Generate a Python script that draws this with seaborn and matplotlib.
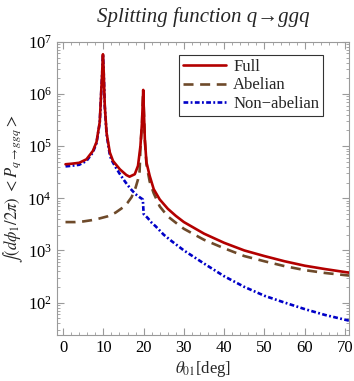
import matplotlib
matplotlib.use("Agg")
import matplotlib.pyplot as plt
import matplotlib.ticker as mticker
import numpy as np
import pandas as pd
import seaborn as sns

# angle theta_01 [deg] and splitting-function values
full_x = [0.6, 2, 4, 5.8, 7.4, 8.3, 9.1, 9.5, 9.7, 9.8, 9.9, 10.0, 10.1, 10.35, 10.8, 11.6, 12.4,
          14.1, 15.7, 16.5, 17.8, 18.6, 19.2, 19.6, 19.75, 19.9, 20.05, 20.3, 20.7, 21.5, 22.5,
          24, 26, 28, 30, 35, 40, 45, 50, 55, 60, 65, 71]
full_y = [4.5e4, 4.6e4, 4.8e4, 5.6e4, 8.1e4, 1.2e5, 2.9e5, 1.25e6, 2.5e6, 4.0e6, 5.8e6, 4.0e6,
          2.5e6, 6.0e5, 1.8e5, 7.6e4, 5.2e4, 3.6e4, 2.8e4, 2.6e4, 2.9e4, 4.2e4, 1.0e5, 2.9e5,
          6.0e5, 1.2e6, 5.0e5, 1.35e5, 4.9e4, 2.7e4, 1.5e4, 9.5e3, 6.3e3, 4.6e3, 3.5e3,
          2.1e3, 1.4e3, 1.0e3, 780, 620, 510, 440, 375]

abel_x = [0.6, 3, 5, 7, 9, 11, 13, 15, 16, 17, 18, 18.6, 19.0, 19.2, 19.6, 19.75, 19.9, 20.05,
          20.3, 20.7, 21.5, 22.5, 24, 26, 28, 30, 35, 40, 45, 50, 55, 60, 65, 71]
abel_y = [3.5e3, 3.5e3, 3.6e3, 3.8e3, 4.1e3, 4.5e3, 5.3e3, 6.8e3, 8.2e3, 1.05e4, 1.6e4, 2.3e4,
          3.3e4, 9.0e4, 2.8e5, 5.9e5, 1.2e6, 4.9e5, 1.3e5, 4.5e4, 2.1e4, 1.25e4, 7.0e3, 4.5e3,
          3.4e3, 2.6e3, 1.6e3, 1.1e3, 780, 620, 500, 420, 370, 330]

nonab_x = [0.6, 2, 4, 5.8, 7.4, 8.3, 9.1, 9.5, 9.7, 9.8, 9.9, 10.0, 10.1, 10.35, 10.8, 11.6, 12,
           13, 14, 15, 16, 17, 18, 19, 19.8, 20.0, 21, 22, 23, 25, 27, 30, 35, 40, 45, 50, 55,
           60, 65, 71]
nonab_y = [4.1e4, 4.2e4, 4.4e4, 5.2e4, 7.6e4, 1.15e5, 2.8e5, 1.2e6, 2.4e6, 3.9e6, 5.7e6, 3.9e6,
           2.4e6, 5.8e5, 1.7e5, 6.8e4, 5.5e4, 4.0e4, 3.0e4, 2.3e4, 1.8e4, 1.45e4, 1.2e4, 1.05e4,
           9.5e3, 5.0e3, 4.2e3, 3.4e3, 2.9e3, 2.0e3, 1.5e3, 1.0e3, 560, 320, 200, 135, 100, 75,
           58, 45]

x_ticks = [0, 10, 20, 30, 40, 50, 60, 70]

sns.set_style("ticks")
plt.rcParams["font.family"] = ["Liberation Serif", "DejaVu Serif"]
plt.rcParams["mathtext.fontset"] = "stix"

frame_col = "#9a9a9a"

fig = plt.figure(figsize=(3.54, 3.81), dpi=100)
ax = fig.add_axes([0.160, 0.121, 0.826, 0.769])

# red drawn last-on-top, like the reference
sns.lineplot(x=full_x, y=full_y, ax=ax, color="#b30000", lw=1.9, label="Full", sort=False,
             zorder=4)
sns.lineplot(x=abel_x, y=abel_y, ax=ax, color="#6e4a2a", lw=1.9, label="Abelian", sort=False,
             zorder=3)
sns.lineplot(x=nonab_x, y=nonab_y, ax=ax, color="#0000c8", lw=1.9, label="Non\u2212abelian",
             sort=False, zorder=2)
lines = ax.get_lines()
lines[1].set_dashes([3.8, 2.5])
lines[2].set_dashes([1.8, 0.9, 0.7, 0.9])

ax.set_yscale("log")
ax.set_xlim(-1.6, 71)
ax.set_ylim(24, 1e7)
ax.set_xticks(x_ticks)
ax.xaxis.set_minor_locator(mticker.MultipleLocator(2))
ax.yaxis.set_major_locator(mticker.LogLocator(base=10, numticks=10))
ax.yaxis.set_minor_locator(mticker.LogLocator(base=10, subs=np.arange(2, 10), numticks=12))
ax.yaxis.set_minor_formatter(mticker.NullFormatter())

for s in ax.spines.values():
    s.set_color(frame_col)
    s.set_linewidth(0.8)
ax.tick_params(which="both", direction="in", top=True, right=True, colors=frame_col,
               labelcolor="black", labelsize=12)
ax.tick_params(which="major", length=5)
ax.tick_params(which="minor", length=2.5)

ax.set_xlabel(r"$\theta_{01}$[deg]", fontsize=12, labelpad=2)
ax.set_ylabel(r"$\int (d\phi_1/2\pi)\ <P_{q\rightarrow ggq}>$", fontsize=12, labelpad=2)
fig.text(0.575, 0.955, "Splitting function q\u2192ggq", ha="center", va="center",
         fontsize=15, style="italic")

leg = ax.legend(loc="upper right", bbox_to_anchor=(0.912, 0.956), fontsize=12,
                frameon=True, fancybox=False, handlelength=2.6, borderpad=0.25,
                labelspacing=0.15, handletextpad=0.4, borderaxespad=0)
leg.get_frame().set_edgecolor("black")
leg.get_frame().set_linewidth(0.8)
leg.set_zorder(5)

fig.savefig("out.png", dpi=100)
